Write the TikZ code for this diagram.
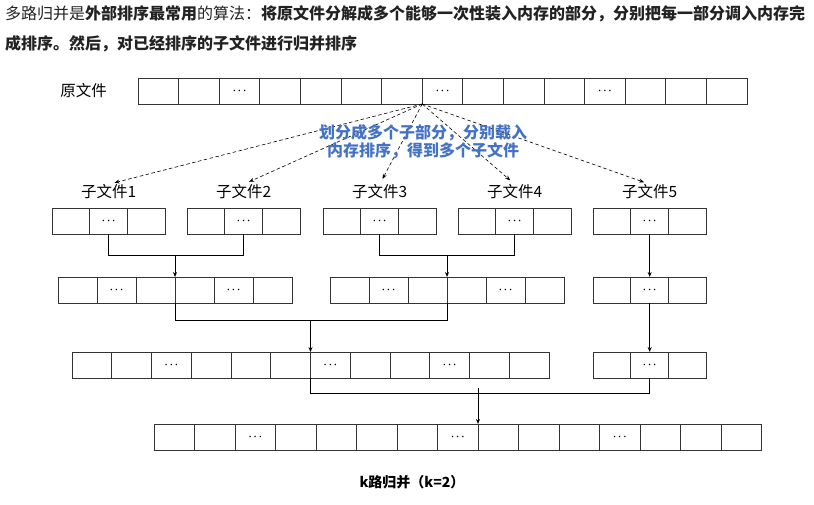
\documentclass[tikz,border=0pt]{standalone}
\usepackage{fontspec}
\setmainfont{Noto Sans CJK SC}
\usepackage{tikz}
\usetikzlibrary{arrows.meta}
\usetikzlibrary{positioning}

\definecolor{noteblue}{RGB}{68,114,196}
\definecolor{ink}{RGB}{34,34,34}

% one row of cells: name, left x, top y, count, cell width, cells with dots
\newcommand{\cellrow}[6]{%
    \foreach \i in {1,...,#4}
        \node[cell, minimum width=#5pt] (#1-\i) at ({#2+(\i-0.5)*#5}, #3+13) {};
    \foreach \i in {#6}
        \node[dots] (#1-d\i) at (#1-\i) {$\cdots$};
}

\begin{document}
\begin{tikzpicture}[x=1pt, y=-1pt,
        cell/.style={draw=black!80, line width=0.8pt, minimum height=26pt, inner sep=0pt, outer sep=0pt},
        dots/.style={inner sep=0pt, font=\normalsize\boldmath},
        lbl/.style={inner sep=0pt, font=\fontsize{15.5}{17}\selectfont},
        hdr/.style={inner sep=0pt, anchor=west, text=ink, font=\fontsize{16}{18}\selectfont},
        merge/.style={line width=0.8pt, -{Stealth[length=5pt, width=4pt]}},
        link/.style={line width=0.8pt},
        split/.style={line width=0.6pt, dash pattern=on 3.5pt off 2.5pt, shorten >=6pt, -{Stealth[length=5pt, width=4pt]}}]
    \useasboundingbox (0,0) rectangle (814,504);

    \node[hdr] (hdr1) at (5,14) {多路归并是{\bfseries 外部排序最常用}的算法：{\bfseries 将原文件分解成多个能够一次性装入内存的部分，分别把每一部分调入内存完}};
    \node[hdr] (hdr2) at (5,44) {\bfseries 成排序。然后，对已经排序的子文件进行归并排序};

    %source file and the sorted sub files
    \cellrow{src}{138}{78}{15}{40.6}{3,8,12}
    \node[lbl, left=31pt of src-1] (src-lbl) {原文件};

    \cellrow{s1}{52}{208}{3}{37.8}{2}
    \cellrow{s2}{187}{208}{3}{37.8}{2}
    \cellrow{s3}{323}{208}{3}{37.8}{2}
    \cellrow{s4}{458}{208}{3}{37.8}{2}
    \cellrow{s5}{593}{208}{3}{37.8}{2}

    \node[lbl, above=9pt of s1-2] (f1) {子文件1};
    \node[lbl, above=9pt of s2-2] (f2) {子文件2};
    \node[lbl, above=9pt of s3-2] (f3) {子文件3};
    \node[lbl, above=9pt of s4-2] (f4) {子文件4};
    \node[lbl, above=9pt of s5-2] (f5) {子文件5};

    \foreach \f in {f1,f2,f3,f4,f5}
        \draw[split] (src-7.south east) to (\f.north);
    \node[align=center, inner sep=0pt, text=noteblue, font=\fontsize{16}{18}\selectfont\bfseries] (note) at (423,142) {划分成多个子部分，分别载入\\内存排序，得到多个子文件};

    %merge levels
    \cellrow{ma}{58}{277}{6}{39}{2,5}
    \cellrow{mb}{330}{277}{6}{39}{2,5}
    \cellrow{mc}{593}{277}{3}{37.8}{2}
    \cellrow{na}{72}{352}{12}{39.75}{3,7,10}
    \cellrow{nc}{593}{352}{3}{37.8}{2}
    \cellrow{out}{154}{424}{15}{40.5}{3,8,12}

    \draw[link] (s1-2.south) -- ++(0,21) coordinate (j1) -| (s2-2.south);
    \draw[merge] (j1 -| ma-3.north east) to (ma-3.north east);
    \draw[link] (s3-2.south) -- ++(0,21) coordinate (j2) -| (s4-2.south);
    \draw[merge] (j2 -| mb-3.north east) to (mb-3.north east);
    \draw[merge] (s5-2.south) to (mc-2.north);

    \draw[link] (ma-3.south east) -- ++(0,17) coordinate (j3) -| (mb-3.south east);
    \draw[merge] (j3 -| na-6.north east) to (na-6.north east);
    \draw[merge] (mc-2.south) to (nc-2.north);

    \draw[link] (na-6.south east) -- ++(0,15) coordinate (j4) -| (nc-2.south);
    \draw[merge] ([yshift=5pt] j4 -| out-8.north east) to (out-8.north east);

    \node[inner sep=0pt, font=\fontsize{14}{16}\selectfont\bfseries] (caption) at (412,482) {k路归并（k=2）};
\end{tikzpicture}
\end{document}
